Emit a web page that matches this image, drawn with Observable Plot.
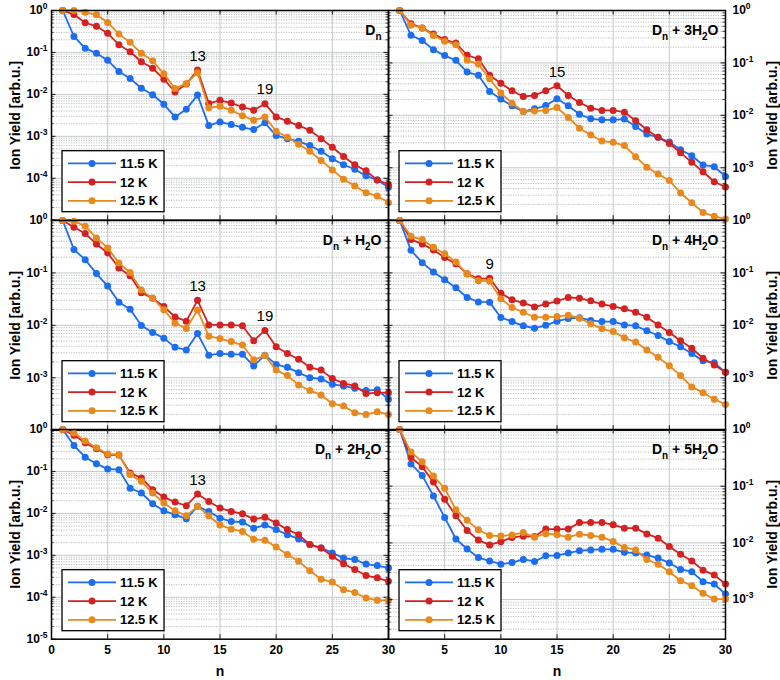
<!DOCTYPE html>
<html><head><meta charset="utf-8">
<script src="https://cdn.jsdelivr.net/npm/d3@7"></script>
<script src="https://cdn.jsdelivr.net/npm/@observablehq/plot@0.6"></script>
<style>
body{margin:0;background:#fff;}
#chart{position:relative;width:780px;height:680px;font-family:"Liberation Sans",Arial,sans-serif;}
#chart svg{position:absolute;overflow:visible;background:transparent;}
</style></head><body><div id="chart"></div>
<script>
// ---------- data ----------
const nValues = d3.range(1, 31);
const temps = ["11.5 K", "12 K", "12.5 K"];
const colors = ["#1c6df0", "#d42222", "#e8891e"];

const dn_115 = [1, 0.24, 0.125, 0.096, 0.065, 0.035, 0.024, 0.014, 0.0098, 0.0058, 0.0029, 0.0044, 0.0096, 0.0018, 0.0022, 0.0019, 0.00164, 0.00145, 0.0021, 0.00104, 0.00088, 0.00076, 0.0006, 0.00044, 0.00029, 0.00021, 0.000164, 0.000114, 0.000091, 0.000061];
const dn_12 = [1, 0.80, 0.51, 0.42, 0.286, 0.153, 0.104, 0.060, 0.042, 0.023, 0.0114, 0.0177, 0.038, 0.0061, 0.0072, 0.0062, 0.005, 0.0042, 0.006, 0.0029, 0.0023, 0.0018, 0.0014, 0.00088, 0.00055, 0.00033, 0.00021, 0.00015, 0.000091, 0.000072];
const dn_125 = [1, 1.0, 0.91, 0.79, 0.52, 0.275, 0.174, 0.095, 0.063, 0.031, 0.0139, 0.018, 0.033, 0.0048, 0.0052, 0.0042, 0.0031, 0.0024, 0.0029, 0.00132, 0.00095, 0.00065, 0.00044, 0.000265, 0.000158, 0.0000946, 0.0000655, 0.0000453, 0.0000377, 0.0000265];

const h1_115 = [1, 0.279, 0.179, 0.097, 0.056, 0.0275, 0.0202, 0.0099, 0.0073, 0.0057, 0.0038, 0.0034, 0.007, 0.0027, 0.0029, 0.0028, 0.0028, 0.00168, 0.0027, 0.0018, 0.00158, 0.00125, 0.001, 0.00095, 0.00075, 0.0007, 0.00063, 0.00057, 0.00059, 0.00039];
const h1_12 = [1, 0.745, 0.564, 0.357, 0.24, 0.124, 0.088, 0.042, 0.033, 0.0229, 0.0145, 0.012, 0.030, 0.0102, 0.0102, 0.0102, 0.0098, 0.0051, 0.008, 0.0039, 0.0029, 0.00225, 0.00158, 0.0014, 0.00097, 0.00078, 0.0007, 0.0005, 0.00052, 0.00052];
const h1_125 = [1, 0.97, 0.78, 0.466, 0.3, 0.155, 0.102, 0.047, 0.033, 0.0198, 0.011, 0.0087, 0.0195, 0.0062, 0.0056, 0.0049, 0.0042, 0.0022, 0.00265, 0.0014, 0.0011, 0.00073, 0.00057, 0.00047, 0.00032, 0.00029, 0.000215, 0.0002, 0.000224, 0.0002];

const h2_115 = [1, 0.415, 0.218, 0.152, 0.115, 0.11, 0.04, 0.0306, 0.017, 0.0115, 0.0093, 0.0074, 0.0147, 0.0111, 0.0077, 0.0064, 0.0062, 0.0044, 0.0053, 0.0041, 0.0031, 0.00246, 0.0018, 0.0015, 0.00114, 0.00086, 0.00079, 0.00062, 0.00057, 0.0005];
const h2_12 = [1, 0.73, 0.48, 0.346, 0.25, 0.245, 0.092, 0.07, 0.0367, 0.0245, 0.0186, 0.0152, 0.0289, 0.0193, 0.0134, 0.0111, 0.0098, 0.0073, 0.0081, 0.0059, 0.0041, 0.0031, 0.0018, 0.0015, 0.00095, 0.00063, 0.00046, 0.00033, 0.00029, 0.00024];
const h2_125 = [1, 0.83, 0.53, 0.366, 0.262, 0.25, 0.084, 0.058, 0.0306, 0.0176, 0.0115, 0.0088, 0.0147, 0.0088, 0.0053, 0.0042, 0.0037, 0.0024, 0.0023, 0.00158, 0.00104, 0.00072, 0.00043, 0.00027, 0.00023, 0.00015, 0.00013, 0.0000961, 0.0000845, 0.0000845];

const h3_115 = [1, 0.337, 0.267, 0.179, 0.138, 0.112, 0.067, 0.058, 0.0286, 0.0204, 0.0152, 0.0118, 0.0133, 0.0154, 0.0207, 0.0152, 0.0105, 0.0086, 0.0082, 0.0082, 0.0085, 0.0061, 0.0044, 0.0038, 0.0031, 0.0022, 0.0017, 0.00113, 0.00105, 0.00068];
const h3_12 = [1, 0.556, 0.466, 0.357, 0.279, 0.24, 0.14, 0.12, 0.058, 0.041, 0.0294, 0.0229, 0.024, 0.0294, 0.0367, 0.024, 0.0176, 0.0137, 0.0124, 0.0124, 0.0115, 0.0079, 0.0053, 0.0038, 0.0029, 0.00194, 0.00127, 0.00084, 0.00054, 0.00043];
const h3_125 = [1, 0.524, 0.466, 0.332, 0.259, 0.223, 0.112, 0.095, 0.05, 0.0266, 0.0171, 0.0118, 0.0121, 0.0124, 0.0141, 0.0091, 0.0057, 0.0042, 0.00325, 0.00306, 0.00265, 0.00163, 0.00102, 0.00076, 0.00057, 0.00033, 0.000215, 0.00014, 0.000119, 0.000105];

const h4_115 = [1, 0.27, 0.157, 0.104, 0.074, 0.052, 0.034, 0.028, 0.0277, 0.0141, 0.0118, 0.0098, 0.0088, 0.01, 0.012, 0.0135, 0.014, 0.0124, 0.0118, 0.0118, 0.0102, 0.0098, 0.0079, 0.0064, 0.0049, 0.0039, 0.0029, 0.0021, 0.00194, 0.00127];
const h4_12 = [1, 0.433, 0.357, 0.275, 0.196, 0.15, 0.096, 0.077, 0.079, 0.041, 0.0307, 0.0268, 0.0225, 0.0255, 0.029, 0.034, 0.033, 0.0294, 0.0254, 0.0229, 0.0207, 0.0178, 0.0143, 0.0102, 0.0073, 0.0051, 0.00365, 0.00235, 0.00175, 0.00127];
const h4_125 = [1, 0.5, 0.433, 0.308, 0.233, 0.161, 0.095, 0.071, 0.069, 0.032, 0.0219, 0.0178, 0.0143, 0.0142, 0.0147, 0.0156, 0.0137, 0.0107, 0.0086, 0.0076, 0.0058, 0.0048, 0.0034, 0.00245, 0.0017, 0.0011, 0.00067, 0.00052, 0.00039, 0.00031];

const h5_115 = [1, 0.247, 0.155, 0.067, 0.028, 0.0117, 0.0078, 0.0055, 0.0048, 0.0042, 0.0045, 0.0051, 0.0047, 0.0059, 0.006, 0.0066, 0.0073, 0.0075, 0.0077, 0.0077, 0.0068, 0.0066, 0.0061, 0.0054, 0.0044, 0.0034, 0.0031, 0.00207, 0.00188, 0.00125];
const h5_12 = [1, 0.32, 0.22, 0.118, 0.059, 0.03, 0.0165, 0.0112, 0.0092, 0.0105, 0.0125, 0.0131, 0.0129, 0.0175, 0.0175, 0.0175, 0.0229, 0.0229, 0.0229, 0.0208, 0.0182, 0.0182, 0.0144, 0.0121, 0.0086, 0.0063, 0.0048, 0.0033, 0.0027, 0.00188];
const h5_125 = [1, 0.4, 0.27, 0.151, 0.092, 0.0384, 0.025, 0.017, 0.0135, 0.0132, 0.0138, 0.0152, 0.0126, 0.0145, 0.0139, 0.0126, 0.0142, 0.0135, 0.0126, 0.0106, 0.0083, 0.0075, 0.0051, 0.0042, 0.0031, 0.00215, 0.00176, 0.00129, 0.00102, 0.00102];

// peak annotations (cluster size n)
const dnAnnot = [13, 19];
const h1Annot = [13, 19];
const h2Annot = [13];
const h3Annot = [15];
const h4Annot = [9];
const h5Annot = [];

// panel titles: [text, "sub"?]
const dnTitle = [["D"], ["n", "sub"]];
const h1Title = [["D"], ["n", "sub"], [" + H"], ["2", "sub"], ["O"]];
const h2Title = [["D"], ["n", "sub"], [" + 2H"], ["2", "sub"], ["O"]];
const h3Title = [["D"], ["n", "sub"], [" + 3H"], ["2", "sub"], ["O"]];
const h4Title = [["D"], ["n", "sub"], [" + 4H"], ["2", "sub"], ["O"]];
const h5Title = [["D"], ["n", "sub"], [" + 5H"], ["2", "sub"], ["O"]];

const yLabel = "Ion Yield [arb.u.]";
const xLabel = "n";
const xTicksLeft = [0, 5, 10, 15, 20, 25, 30];
const xTicksRight = [5, 10, 15, 20, 25, 30];

const panels = [
  {col: 0, row: 0, yMin: 1e-5, series: [dn_115, dn_12, dn_125], annot: dnAnnot, title: dnTitle},
  {col: 1, row: 0, yMin: 1e-4, series: [h3_115, h3_12, h3_125], annot: h3Annot, title: h3Title},
  {col: 0, row: 1, yMin: 1e-4, series: [h1_115, h1_12, h1_125], annot: h1Annot, title: h1Title},
  {col: 1, row: 1, yMin: 1e-4, series: [h4_115, h4_12, h4_125], annot: h4Annot, title: h4Title},
  {col: 0, row: 2, yMin: 1e-5, series: [h2_115, h2_12, h2_125], annot: h2Annot, title: h2Title},
  {col: 1, row: 2, yMin: 2e-4, series: [h5_115, h5_12, h5_125], annot: h5Annot, title: h5Title}
];

// ---------- layout ----------
const FRAME_W = 337, FRAME_H = 209.7;
const colX = [51, 388];
const rowY = [9.8, 219.5, 429.2];
const ns = "http://www.w3.org/2000/svg";
const chart = document.getElementById("chart");

function setSegments(el, segs, shift, subSize) {
  while (el.firstChild) el.removeChild(el.firstChild);
  el.setAttribute("style", (el.getAttribute("style") || "") + ";white-space:pre");
  let down = false;
  for (const [s, kind] of segs) {
    const ts = document.createElementNS(ns, "tspan");
    ts.textContent = s;
    if (kind === "sub") { ts.setAttribute("dy", shift); ts.setAttribute("font-size", subSize); down = true; }
    else if (kind === "sup") { ts.setAttribute("dy", -shift); ts.setAttribute("font-size", subSize); }
    else if (down) { ts.setAttribute("dy", -shift); down = false; }
    el.appendChild(ts);
  }
}

for (const p of panels) {
  const isBottom = p.row === 2;
  const left = p.col === 0;
  const mL = left ? 51 : 6, mR = left ? 6 : 55, mT = 8, mB = isBottom ? 45 : 8;
  const W = FRAME_W + mL + mR, H = FRAME_H + mT + mB;
  const lo = Math.log10(p.yMin);
  const pxPerDec = FRAME_H / (-lo);
  const decades = d3.range(Math.ceil(lo - 1e-9), 1).map(k => Math.pow(10, k));
  const minor = [];
  for (let k = Math.floor(lo); k < 0; k++) for (let m = 2; m <= 9; m++) {
    const v = m * Math.pow(10, k);
    if (v > p.yMin * 1.0001 && v < 1) minor.push(v);
  }
  const majorGrid = decades.filter(d => d > p.yMin * 1.0001 && d < 1);
  const tickVals = decades.filter(d => isBottom || d > p.yMin * 1.0001);
  const tickLen = 4.5 / (FRAME_W / 30);
  const mTickLen = 2.6 / (FRAME_W / 30);
  const yTickFactor = Math.pow(10, 4.5 / pxPerDec);
  const plain = p.title.map(s => s[0]).join("");

  const marks = [
    Plot.ruleY(minor, {y: d => d, stroke: "#a9adad", strokeWidth: 0.8, strokeDasharray: "1.2,1.3"}),
    Plot.ruleY(majorGrid, {y: d => d, stroke: "#c3c9c8", strokeWidth: 1}),
    Plot.ruleX([5, 10, 15, 20, 25], {x: d => d, stroke: "#c3c9c8", strokeWidth: 1}),
    // inward ticks
    Plot.ruleY(decades, {y: d => d, x1: 0, x2: tickLen, stroke: "#000", strokeWidth: 0.9}),
    Plot.ruleY(decades, {y: d => d, x1: 30 - tickLen, x2: 30, stroke: "#000", strokeWidth: 0.9}),
    Plot.ruleY(minor, {y: d => d, x1: 0, x2: mTickLen, stroke: "#000", strokeWidth: 0.7}),
    Plot.ruleY(minor, {y: d => d, x1: 30 - mTickLen, x2: 30, stroke: "#000", strokeWidth: 0.7}),
    Plot.ruleX([5, 10, 15, 20, 25], {x: d => d, y1: p.yMin, y2: p.yMin * yTickFactor, stroke: "#000", strokeWidth: 0.9}),
    Plot.ruleX([5, 10, 15, 20, 25], {x: d => d, y1: 1 / yTickFactor, y2: 1, stroke: "#000", strokeWidth: 0.9})
  ];
  p.series.forEach((arr, i) => {
    const data = arr.map((v, j) => ({n: nValues[j], v, temp: temps[i]}));
    marks.push(Plot.line(data, {x: "n", y: "v", stroke: "temp", strokeWidth: 1.8}));
    marks.push(Plot.dot(data, {x: "n", y: "v", fill: "temp", r: 3.5}));
  });
  marks.push(Plot.frame({stroke: "#000", strokeWidth: 1.5}));
  marks.push(Plot.axisY({ticks: tickVals, anchor: left ? "left" : "right", tickSize: 0, tickPadding: left ? 4 : 7,
    tickFormat: d => "10^" + Math.round(Math.log10(d)), fontSize: 12, fontWeight: "bold", label: null}));
  marks.push(Plot.text([yLabel], {frameAnchor: left ? "left" : "right", rotate: -90, dx: left ? -36 : 47,
    textAnchor: "middle", lineAnchor: "middle", fontSize: 14, fontWeight: "bold", fill: "#000"}));
  if (isBottom) {
    marks.push(Plot.axisX({ticks: left ? xTicksLeft : xTicksRight, tickSize: 0, tickPadding: 6,
      tickFormat: d => String(d), fontSize: 12, fontWeight: "bold", label: null}));
    marks.push(Plot.text([xLabel], {frameAnchor: "bottom", dy: 32, lineAnchor: "middle", fontSize: 14, fontWeight: "bold", fill: "#000"}));
  }
  marks.push(Plot.text(p.annot, {x: d => d, y: d => Math.max(...p.series.map(s => s[d - 1])), text: d => String(d),
    dy: -14, fontSize: 15, fontWeight: "normal", fill: "#000"}));
  marks.push(Plot.text([plain], {frameAnchor: "top-right", dx: -7, dy: 15, lineAnchor: "top", fontSize: 14, fontWeight: "bold", fill: "#000"}));

  const svgEl = Plot.plot({
    width: W, height: H, marginLeft: mL, marginRight: mR, marginTop: mT, marginBottom: mB,
    x: {domain: [0, 30], axis: null},
    y: {type: "log", domain: [p.yMin, 1], axis: null},
    color: {domain: temps, range: colors},
    style: {fontFamily: "'Liberation Sans', Arial, sans-serif", background: "transparent", overflow: "visible", color: "#000"},
    marks
  });
  svgEl.style.left = (colX[p.col] - mL) + "px";
  svgEl.style.top = (rowY[p.row] - mT) + "px";
  chart.appendChild(svgEl);

  // superscripts in tick labels, subscripts in titles
  svgEl.querySelectorAll("text").forEach(t => {
    const m = t.textContent.match(/^10\^(-?\d+)$/);
    if (m) setSegments(t, [["10"], [m[1], "sup"]], 5, 8.5);
    else if (t.textContent === plain) setSegments(t, p.title, 5, 10);
  });

  // legend box
  const svg = d3.select(svgEl);
  const rx = mL + 11, ry = mT + FRAME_H - 8 - 61;
  const g = svg.append("g");
  g.append("rect").attr("x", rx).attr("y", ry).attr("width", 102).attr("height", 61)
    .attr("fill", "#fff").attr("stroke", "#000").attr("stroke-width", 1.3);
  temps.forEach((t, i) => {
    const yy = ry + 12.7 + i * 18.7;
    g.append("line").attr("x1", rx + 6).attr("x2", rx + 54).attr("y1", yy).attr("y2", yy)
      .attr("stroke", colors[i]).attr("stroke-width", 1.8);
    g.append("circle").attr("cx", rx + 30).attr("cy", yy).attr("r", 3.5).attr("fill", colors[i]);
    g.append("text").attr("x", rx + 58).attr("y", yy).attr("dy", "0.36em").attr("font-size", 13)
      .attr("text-anchor", "start").attr("font-weight", "bold").attr("fill", "#000").text(t);
  });
}
</script></body></html>
